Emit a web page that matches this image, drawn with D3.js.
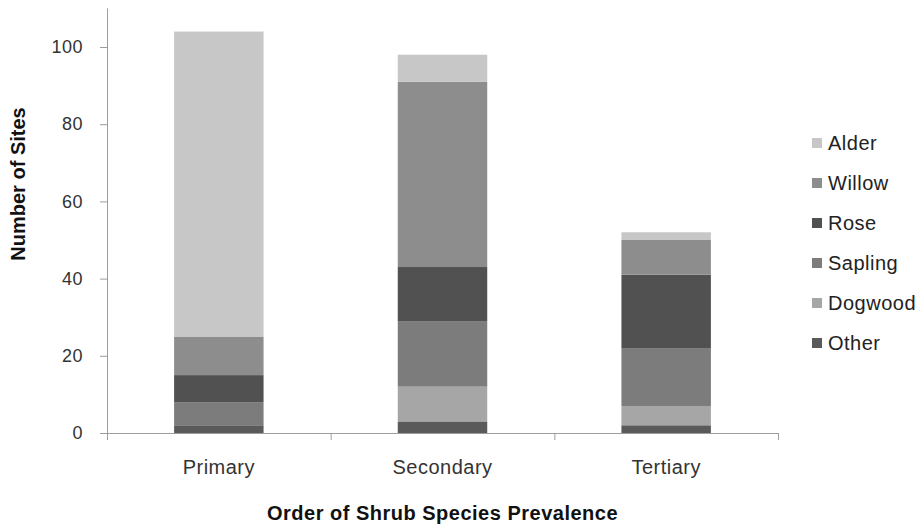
<!DOCTYPE html>
<html>
<head>
<meta charset="utf-8">
<script src="https://cdn.jsdelivr.net/npm/d3@7"></script>
<style>
body { margin: 0; background: #fff; }
svg text { font-family: "Liberation Sans", Arial, sans-serif; }
</style>
</head>
<body>
<script>
// order of prevalence groups
var categories = ['Primary', 'Secondary', 'Tertiary'];
// stacked bottom -> top
var species = ['Other', 'Dogwood', 'Sapling', 'Rose', 'Willow', 'Alder'];
var other   = [2, 3, 2];
var dogwood = [0, 9, 5];
var sapling = [6, 17, 15];
var rose    = [7, 14, 19];
var willow  = [10, 48, 9];
var alder   = [79, 7, 2];
var yTicks  = [0, 20, 40, 60, 80, 100];

var colors = {
  'Other': '#5a5a5a', 'Dogwood': '#a6a6a6', 'Sapling': '#7c7c7c',
  'Rose': '#515151', 'Willow': '#8d8d8d', 'Alder': '#c7c7c7'
};

var series = {'Other': other, 'Dogwood': dogwood, 'Sapling': sapling,
              'Rose': rose, 'Willow': willow, 'Alder': alder};
var rows = categories.map(function(c, i) {
  var r = {cat: c};
  species.forEach(function(s) { r[s] = series[s][i]; });
  return r;
});

var W = 920, H = 525;
var left = 107, right = 778, bottom = 433;

var svg = d3.select('body').append('svg')
   .attr('width', W)
   .attr('height', H);

var y = d3.scaleLinear().domain([0, 110]).range([bottom, bottom - 110 * 3.86]);
var x = d3.scaleBand().domain(categories).range([left, right])
   .paddingInner(0.6).paddingOuter(0.3);
var xb = d3.scaleLinear().domain([0, 3]).range([left, right]);

var stacked = d3.stack().keys(species)(rows);

svg.append('g').selectAll('g')
   .data(stacked)
   .enter().append('g')
     .attr('fill', function(d) { return colors[d.key]; })
   .selectAll('rect')
   .data(function(d) { return d; })
   .enter().append('rect')
     .attr('x', function(d) { return x(d.data.cat); })
     .attr('width', x.bandwidth())
     .attr('y', function(d) { return y(d[1]); })
     .attr('height', function(d) { return y(d[0]) - y(d[1]); });

// y axis
var ya = svg.append('g')
   .attr('transform', 'translate(' + left + ',0)')
   .call(d3.axisLeft(y).tickValues(yTicks).tickSize(7).tickPadding(17));
ya.select('.domain').attr('stroke', '#a09c9c').attr('d', 'M0.5,' + y(110) + 'V' + bottom);
ya.selectAll('line').attr('stroke', '#a09c9c');
ya.selectAll('text').attr('font-size', 18).attr('fill', '#333')
   .attr('letter-spacing', 0.5)
   .attr('font-family', '"Liberation Sans", Arial, sans-serif');

// x axis: boundary ticks
var xa = svg.append('g')
   .attr('transform', 'translate(0,' + bottom + ')')
   .call(d3.axisBottom(xb).tickValues([0, 1, 2, 3]).tickSize(7).tickFormat(''));
xa.select('.domain').attr('stroke', '#a09c9c').attr('d', 'M' + left + ',0.5H' + right);
xa.selectAll('line').attr('stroke', '#a09c9c');

// category labels
var xl = svg.append('g')
   .attr('transform', 'translate(0,' + bottom + ')')
   .call(d3.axisBottom(x).tickSize(0).tickPadding(27));
xl.select('.domain').remove();
xl.selectAll('text').attr('font-size', 20).attr('fill', '#333')
   .attr('letter-spacing', 0.5)
   .attr('font-family', '"Liberation Sans", Arial, sans-serif');

// axis titles
svg.append('text')
   .attr('x', (left + right) / 2)
   .attr('y', 520)
   .attr('text-anchor', 'middle')
   .attr('font-size', 20)
   .attr('font-weight', 'bold')
   .attr('letter-spacing', 0.5)
   .attr('fill', '#111')
   .text('Order of Shrub Species Prevalence');

svg.append('text')
   .attr('transform', 'translate(25,184) rotate(-90)')
   .attr('text-anchor', 'middle')
   .attr('font-size', 20)
   .attr('font-weight', 'bold')
   .attr('fill', '#111')
   .text('Number of Sites');

// legend
var legend = svg.append('g').selectAll('g')
   .data(species.slice().reverse())
   .enter().append('g')
     .attr('transform', function(d, i) { return 'translate(812,' + (143 + i * 40) + ')'; });
legend.append('rect')
   .attr('y', -5)
   .attr('width', 10)
   .attr('height', 10)
   .attr('fill', function(d) { return colors[d]; });
legend.append('text')
   .attr('x', 16)
   .attr('dy', '0.35em')
   .attr('font-size', 20)
   .attr('letter-spacing', 0.5)
   .attr('fill', '#222')
   .text(function(d) { return d; });
</script>
</body>
</html>
